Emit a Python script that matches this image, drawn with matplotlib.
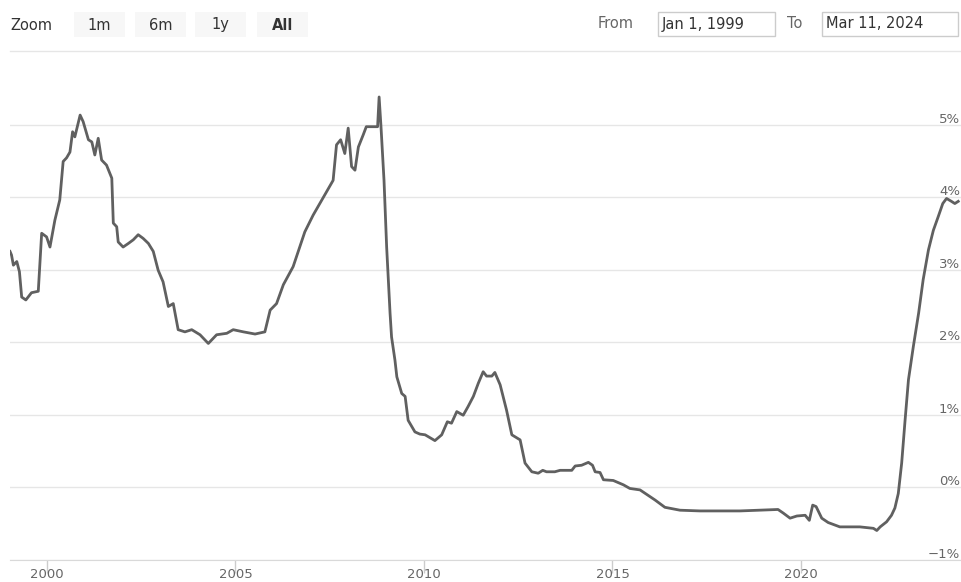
import matplotlib.pyplot as plt
from matplotlib.patches import Rectangle
from matplotlib.lines import Line2D
from matplotlib.transforms import blended_transform_factory, offset_copy

# 3-month rate (decimal year, percent)
years = [1999.02, 1999.06, 1999.11, 1999.20, 1999.27, 1999.33, 1999.44, 1999.59, 1999.77,
         1999.86, 1999.99, 2000.08, 2000.21, 2000.34, 2000.43, 2000.52, 2000.61, 2000.68,
         2000.74, 2000.88, 2000.96, 2001.10, 2001.19, 2001.27, 2001.36, 2001.45, 2001.58,
         2001.72, 2001.76, 2001.85, 2001.89, 2002.02, 2002.16, 2002.29, 2002.42, 2002.55,
         2002.69, 2002.82, 2002.95, 2003.08, 2003.22, 2003.35, 2003.48, 2003.66, 2003.84,
         2004.06, 2004.28, 2004.50, 2004.77, 2004.94, 2005.21, 2005.52, 2005.78, 2005.92,
         2006.09, 2006.27, 2006.53, 2006.84, 2007.06, 2007.37, 2007.59, 2007.68, 2007.79,
         2007.90, 2007.99, 2008.08, 2008.17, 2008.26, 2008.39, 2008.47, 2008.77, 2008.81,
         2008.86, 2008.94, 2009.01, 2009.10, 2009.14, 2009.23, 2009.28, 2009.41, 2009.50,
         2009.58, 2009.76, 2009.89, 2010.03, 2010.29, 2010.47, 2010.62, 2010.73, 2010.87,
         2011.04, 2011.17, 2011.31, 2011.44, 2011.57, 2011.66, 2011.80, 2011.88, 2012.02,
         2012.19, 2012.33, 2012.55, 2012.68, 2012.86, 2013.03, 2013.15, 2013.25, 2013.47,
         2013.61, 2013.92, 2014.01, 2014.18, 2014.36, 2014.47, 2014.54, 2014.67, 2014.76,
         2015.02, 2015.29, 2015.46, 2015.73, 2016.13, 2016.39, 2016.79, 2017.32, 2018.38,
         2019.39, 2019.53, 2019.71, 2019.89, 2020.11, 2020.22, 2020.31, 2020.40, 2020.55,
         2020.72, 2021.03, 2021.56, 2021.92, 2022.01, 2022.10, 2022.27, 2022.40, 2022.49,
         2022.58, 2022.67, 2022.76, 2022.85, 2022.98, 2023.12, 2023.24, 2023.38, 2023.51,
         2023.64, 2023.76, 2023.86, 2023.99, 2024.08, 2024.17]
rate = [3.25, 3.20, 3.06, 3.11, 2.97, 2.62, 2.58, 2.68, 2.70,
        3.50, 3.45, 3.31, 3.68, 3.96, 4.49, 4.54, 4.62, 4.90,
        4.83, 5.13, 5.04, 4.79, 4.76, 4.58, 4.81, 4.51, 4.44,
        4.26, 3.64, 3.59, 3.38, 3.31, 3.36, 3.41, 3.48, 3.43,
        3.36, 3.25, 2.99, 2.83, 2.49, 2.53, 2.17, 2.14, 2.17,
        2.10, 1.98, 2.10, 2.12, 2.17, 2.14, 2.11, 2.14, 2.44,
        2.53, 2.79, 3.04, 3.52, 3.75, 4.03, 4.23, 4.72, 4.79,
        4.60, 4.95, 4.42, 4.37, 4.69, 4.86, 4.97, 4.97, 5.38,
        4.97, 4.23, 3.31, 2.40, 2.07, 1.75, 1.52, 1.29, 1.25,
        0.92, 0.76, 0.73, 0.72, 0.64, 0.72, 0.90, 0.88, 1.04,
        0.99, 1.11, 1.25, 1.43, 1.59, 1.53, 1.53, 1.58, 1.41,
        1.06, 0.72, 0.65, 0.33, 0.21, 0.19, 0.23, 0.21, 0.21,
        0.23, 0.23, 0.29, 0.30, 0.34, 0.30, 0.21, 0.20, 0.10,
        0.09, 0.03, -0.02, -0.04, -0.18, -0.28, -0.32, -0.33, -0.33,
        -0.31, -0.36, -0.43, -0.40, -0.39, -0.46, -0.25, -0.27, -0.43,
        -0.49, -0.55, -0.55, -0.57, -0.60, -0.55, -0.48, -0.39, -0.29,
        -0.09, 0.33, 0.92, 1.48, 1.94, 2.40, 2.86, 3.27, 3.54,
        3.73, 3.91, 3.98, 3.94, 3.91, 3.94]

x_ticks = [2000, 2005, 2010, 2015, 2020]
y_ticks = [-1, 0, 1, 2, 3, 4, 5]
zoom_buttons = ["1m", "6m", "1y", "All"]
date_from = "Jan 1, 1999"
date_to = "Mar 11, 2024"

plt.rcParams["font.family"] = "DejaVu Sans"

W, H = 962, 582
fig = plt.figure(figsize=(W / 100, H / 100), dpi=100)


def fx(px):
    return px / W


def fy(py):
    return 1 - py / H


# main plot area
ax = fig.add_axes([fx(10), fy(559.5), fx(962) - fx(10), (559.5 - 60) / H])
ax.plot(years, rate, color="#606060", lw=2.0, solid_joinstyle="round", zorder=3)
ax.set_xlim(1999.02, 2024.27)
ax.set_ylim(-1, 5.89)
for s in ["top", "left", "right"]:
    ax.spines[s].set_visible(False)
ax.spines["bottom"].set_color("#d9d9d9")
ax.set_yticks(y_ticks)
ax.yaxis.grid(True, color="#e6e6e6", lw=1)
ax.tick_params(axis="y", length=0, labelleft=False)
ax.set_xticks(x_ticks)
ax.set_xticklabels([])
ax.tick_params(axis="x", length=9, width=1, color="#cccccc")

# x labels: baseline just above the bottom edge of the figure
xtrans = blended_transform_factory(ax.transData, fig.transFigure)
for t in x_ticks:
    ax.text(t, fy(578), str(t), transform=xtrans, ha="center", va="baseline",
            fontsize=9.5, color="#666666")

# y labels sit inside the plot, right aligned above each grid line
trans = blended_transform_factory(ax.transAxes, ax.transData)
trans = offset_copy(trans, fig=fig, x=-2, y=2, units="dots")
for v in y_ticks:
    lab = f"{v}%".replace("-", "\u2212")
    ax.text(1.0, v, lab, transform=trans, ha="right", va="baseline",
            fontsize=9.5, color="#666666")

# range selector toolbar
fig.text(fx(10), fy(25), "Zoom", ha="left", va="center", fontsize=10.5, color="#333333")
btn_left = [74, 135, 195, 257]
for lab, left in zip(zoom_buttons, btn_left):
    fig.patches.append(Rectangle((fx(left), fy(37)), fx(51), 25 / H,
                                 transform=fig.transFigure, fc="#f7f7f7", ec="none"))
    fig.text(fx(left + 25.5), fy(25), lab, ha="center", va="center", fontsize=10.5,
             color="#333333", fontweight="bold" if lab == "All" else "normal")

fig.text(fx(598), fy(24), "From", ha="left", va="center", fontsize=10.5, color="#666666")
fig.text(fx(787), fy(24), "To", ha="left", va="center", fontsize=10.5, color="#666666")
for txt, left, right in [(date_from, 658, 775), (date_to, 822, 958)]:
    fig.patches.append(Rectangle((fx(left), fy(36)), fx(right - left), 24 / H,
                                 transform=fig.transFigure, fc="white", ec="#cccccc", lw=1))
    fig.text(fx(left + 4), fy(24), txt, ha="left", va="center", fontsize=10.5, color="#333333")

fig.lines.append(Line2D([fx(10), fx(962)], [fy(51), fy(51)], transform=fig.transFigure,
                        color="#e6e6e6", lw=1))

fig.savefig("out.png", dpi=100)
